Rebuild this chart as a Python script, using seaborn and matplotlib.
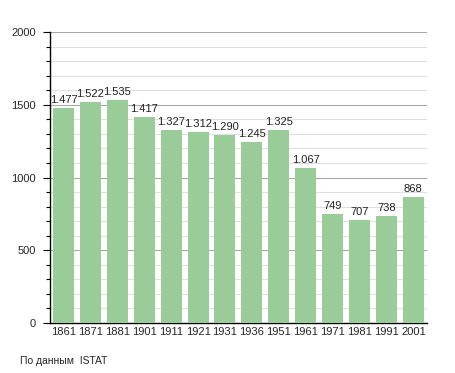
import matplotlib
matplotlib.use("Agg")
import matplotlib.pyplot as plt
import seaborn as sns
import pandas as pd
from matplotlib.ticker import MultipleLocator

years = ["1861", "1871", "1881", "1901", "1911", "1921", "1931", "1936", "1951", "1961", "1971", "1981", "1991", "2001"]
population = [1477, 1522, 1535, 1417, 1327, 1312, 1290, 1245, 1325, 1067, 749, 707, 738, 868]
value_labels = ["1.477", "1.522", "1.535", "1.417", "1.327", "1.312", "1.290", "1.245", "1.325", "1.067", "749", "707", "738", "868"]

sns.set_style("white")
plt.rcParams['font.family'] = ['Liberation Sans', 'DejaVu Sans']

df = pd.DataFrame({"year": years, "pop": population})

fig = plt.figure(figsize=(4.55, 3.73), dpi=100)
ax = fig.add_axes([0.11, 0.134, 0.828, 0.78])

sns.barplot(data=df, x="year", y="pop", color="#99cc99", saturation=1, width=0.78,
            linewidth=0, ax=ax, zorder=3)

ax.set_ylim(0, 2000)
ax.set_xlim(-0.5, len(years) - 0.5)
ax.yaxis.set_major_locator(MultipleLocator(500))
ax.yaxis.set_minor_locator(MultipleLocator(100))
ax.grid(which="minor", axis="y", color="#e0e0e0", linewidth=0.8, zorder=0)
ax.grid(which="major", axis="y", color="#a8a8a8", linewidth=0.8, zorder=0)
ax.set_axisbelow(True)

for s in ["top", "right"]:
    ax.spines[s].set_visible(False)
ax.spines["left"].set_color("black")
ax.spines["bottom"].set_color("black")
ax.spines["left"].set_linewidth(1)
ax.spines["bottom"].set_linewidth(1)

ax.tick_params(axis="y", which="both", left=True)
ax.tick_params(axis="y", which="major", length=5, width=0.8, color="black", direction="out", labelsize=8, pad=5)
ax.tick_params(axis="y", which="minor", length=3, width=0.8, color="black", direction="out")
ax.tick_params(axis="x", length=0, labelsize=8, pad=3)
ax.set_xlabel("")
ax.set_ylabel("")

for i, (v, lab) in enumerate(zip(population, value_labels)):
    ax.text(i, v + 20, lab, ha="center", va="bottom", fontsize=8, color="#222222")

fig.text(20 / 455, 1 - 361 / 373, "По данным  ISTAT", fontsize=7.5, ha="left", va="center")

fig.savefig("out.png", dpi=100)
